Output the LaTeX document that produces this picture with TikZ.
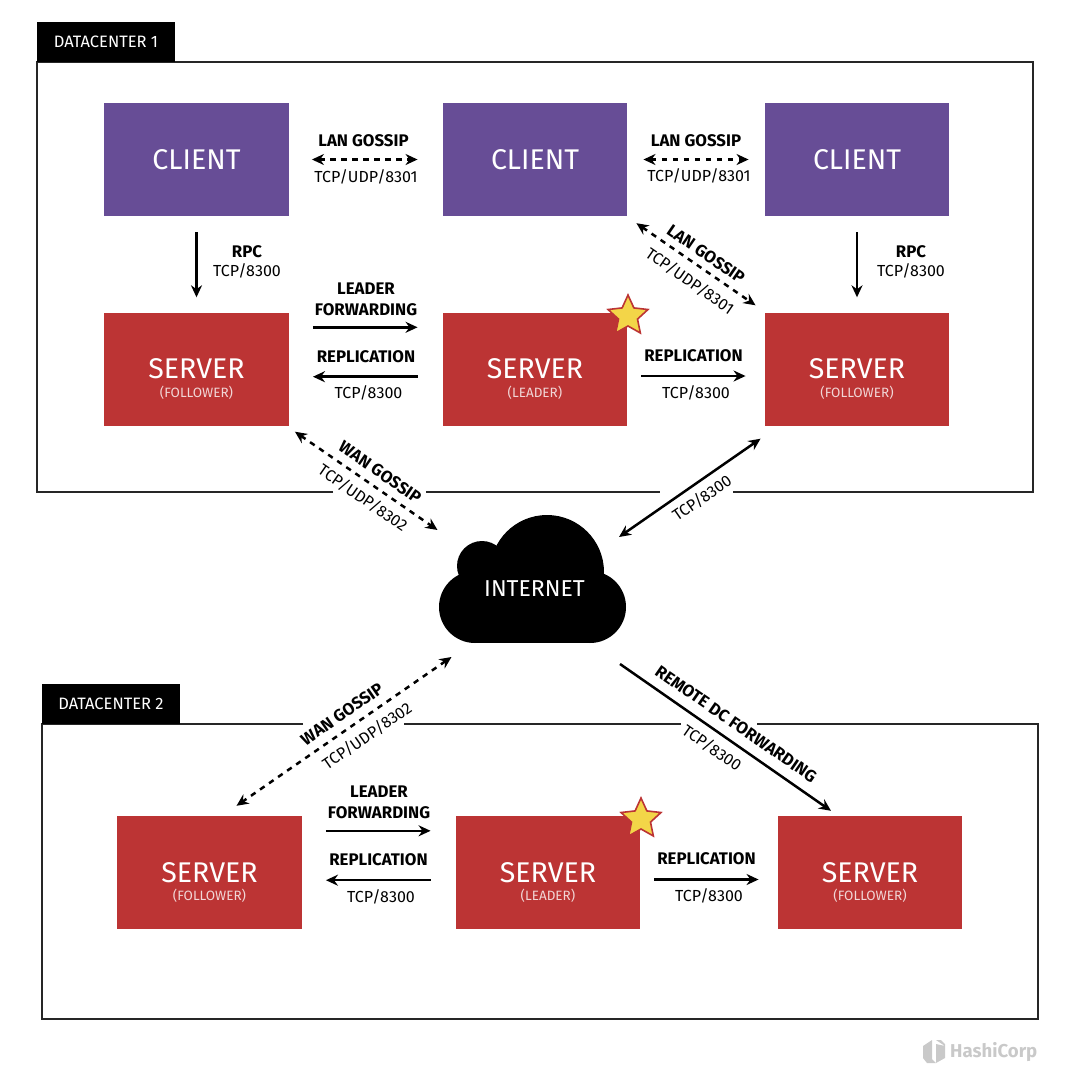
\documentclass[tikz,border=0pt]{standalone}
\usepackage{fontspec}
\setmainfont{Fira Sans}
\usetikzlibrary{shapes.geometric,arrows.meta}
\definecolor{clientpurple}{HTML}{674D96}
\definecolor{serverred}{HTML}{BC3434}
\definecolor{staryellow}{HTML}{F3D548}
\definecolor{logogray}{HTML}{C9C9C9}
\tikzset{
	clientbox/.style={fill=clientpurple,text=white,minimum width=184.5pt,minimum height=113pt,inner sep=0pt,font=\fontsize{28.5}{30}\selectfont},
	serverbox/.style={fill=serverred,text=white,minimum width=184.5pt,minimum height=113pt,inner sep=0pt,font=\fontsize{28.5}{30}\selectfont},
	subtext/.style={text=white!80!serverred,inner sep=0pt,font=\fontsize{13.5}{15}\selectfont},
	tabbox/.style={fill=black,text=white,minimum width=138pt,minimum height=40pt,inner sep=0pt,font=\fontsize{16.5}{18}\selectfont},
	frameline/.style={line width=1.6pt,draw=black!85},
	boldlabel/.style={inner sep=0pt,align=center,font=\bfseries\fontsize{16.8}{21}\selectfont},
	portlabel/.style={inner sep=0pt,font=\fontsize{16}{18}\selectfont},
	solidarrow/.style={line width=2.5pt},
	gossiparrow/.style={line width=2.5pt,dash pattern=on 5.5pt off 5.5pt},
	leaderstar/.style={star,star points=5,star point ratio=2.1,minimum size=42pt,inner sep=0pt,fill=staryellow,draw=serverred,line width=1.6pt},
}
\begin{document}
\begin{tikzpicture}[x=1pt,y=-1pt,line join=miter,>={Stealth[length=12pt,width=11pt]}]
	\useasboundingbox (0,0) rectangle (1080,1088);
	% datacenter 1
	\draw[frameline] (333,492)--(37,492)--(37,62)--(1033,62)--(1033,492)--(733,492);
	\draw[frameline] (426,492)--(660,492);
	\node[tabbox] (tabA) at (106,42) {DATACENTER 1};
	\node[clientbox] (clientA) at (196.5,159.5) {CLIENT};
	\node[clientbox] (clientB) at (535,159.5) {CLIENT};
	\node[clientbox] (clientC) at (857,159.5) {CLIENT};
	\node[serverbox] (serverA) at (196.5,369) {SERVER};
	\node[serverbox] (serverB) at (535,369) {SERVER};
	\node[serverbox] (serverC) at (857,369) {SERVER};
	\node[subtext] (subA) at (196.5,393) {(FOLLOWER)};
	\node[subtext] (subB) at (535,393) {(LEADER)};
	\node[subtext] (subC) at (857,393) {(FOLLOWER)};
	\node[leaderstar] (starA) at (628,316) {};
	% datacenter 2
	\draw[frameline] (303,724)--(42,724)--(42,1019)--(1038,1019)--(1038,724)--(757,724);
	\draw[frameline] (404,724)--(681,724);
	\node[tabbox] (tabB) at (111,704) {DATACENTER 2};
	\node[serverbox] (serverD) at (209.5,872.5) {SERVER};
	\node[serverbox] (serverE) at (548,872.5) {SERVER};
	\node[serverbox] (serverF) at (870,872.5) {SERVER};
	\node[subtext] (subD) at (209.5,896) {(FOLLOWER)};
	\node[subtext] (subE) at (548,896) {(LEADER)};
	\node[subtext] (subF) at (870,896) {(FOLLOWER)};
	\node[leaderstar] (starB) at (641,819) {};
	% cloud
	\fill (475,607) circle(36);
	\fill (590,607) circle(36);
	\fill (547,572) circle(57);
	\fill (482,566) circle(25);
	\fill (475,590) rectangle (590,643);
	\node[text=white,inner sep=0pt,font=\fontsize{23}{25}\selectfont] (internet) at (534.5,589) {INTERNET};
	% connectors of datacenter 1
	\draw[<->,gossiparrow] ([xshift=23pt]clientA.east)--([xshift=-25pt]clientB.west);
	\draw[<->,gossiparrow] ([xshift=16pt]clientB.east)--([xshift=-16pt]clientC.west);
	\draw[<->,gossiparrow] ([shift={(9,7)}]clientB.south east)--([shift={(-9,-7)}]serverC.north west);
	\draw[->,solidarrow] ([yshift=-16pt]clientA.south)--([yshift=15pt]serverA.north);
	\draw[->,solidarrow] ([yshift=-16pt]clientC.south)--([yshift=15pt]serverC.north);
	\draw[->,solidarrow] ([shift={(24,15)}]serverA.north east)--([shift={(-25,15)}]serverB.north west);
	\draw[->,solidarrow] ([shift={(-25,-49)}]serverB.south west)--([shift={(24,-49)}]serverA.south east);
	\draw[->,solidarrow] ([xshift=14pt,yshift=-7pt]serverB.east)--([xshift=-19pt,yshift=-7pt]serverC.west);
	% connectors to the cloud
	\draw[<->,gossiparrow] ([shift={(6,6)}]serverA.south east)--([shift={(-97,-59)}]internet.center);
	\draw[<->,solidarrow] ([shift={(-4,13)}]serverC.south west)--([shift={(84.5,-52)}]internet.center);
	\draw[<->,gossiparrow] ([shift={(-83,68)}]internet.center)--([shift={(27,-10)}]serverD.north);
	\draw[->,solidarrow] ([shift={(85.5,75)}]internet.center)--([shift={(-39,-5)}]serverF.north);
	% connectors of datacenter 2
	\draw[->,solidarrow] ([shift={(24,15)}]serverD.north east)--([shift={(-25,15)}]serverE.north west);
	\draw[->,solidarrow] ([shift={(-25,-49)}]serverE.south west)--([shift={(24,-49)}]serverD.south east);
	\draw[->,solidarrow] ([xshift=14pt,yshift=-7pt]serverE.east)--([xshift=-19pt,yshift=-7pt]serverF.west);
	% labels of datacenter 1
	\node[boldlabel] (lanA) at (363.5,141) {LAN GOSSIP};
	\node[portlabel] (lanportA) at (366,177) {TCP/UDP/8301};
	\node[boldlabel] (lanB) at (696,141) {LAN GOSSIP};
	\node[portlabel] (lanportB) at (699,176) {TCP/UDP/8301};
	\node[boldlabel,rotate=-34.7] (lanC) at (706,254) {LAN GOSSIP};
	\node[portlabel,rotate=-34.7] (lanportC) at (690,281) {TCP/UDP/8301};
	\node[boldlabel] (rpcA) at (247,252) {RPC};
	\node[portlabel] (rpcportA) at (247,271) {TCP/8300};
	\node[boldlabel] (rpcB) at (911,252) {RPC};
	\node[portlabel] (rpcportB) at (911,271) {TCP/8300};
	\node[boldlabel] (leaderA) at (366,299.5) {LEADER\\FORWARDING};
	\node[boldlabel] (replA) at (366,357) {REPLICATION};
	\node[portlabel] (replportA) at (368.5,393) {TCP/8300};
	\node[boldlabel] (replB) at (693.5,356) {REPLICATION};
	\node[portlabel] (replportB) at (696,393) {TCP/8300};
	% labels around the cloud
	\node[boldlabel,rotate=-34.7] (wanA) at (380,472) {WAN GOSSIP};
	\node[portlabel,rotate=-34.7] (wanportA) at (363,498) {TCP/UDP/8302};
	\node[portlabel,rotate=34.7] (inetport) at (702,498) {TCP/8300};
	\node[boldlabel,rotate=34.7] (wanB) at (342,714) {WAN GOSSIP};
	\node[portlabel,rotate=34.7] (wanportB) at (367,736) {TCP/UDP/8302};
	\node[boldlabel,rotate=-34.7] (remote) at (736,724) {REMOTE DC FORWARDING};
	\node[portlabel,rotate=-34.7] (remoteport) at (712,748) {TCP/8300};
	% labels of datacenter 2
	\node[boldlabel] (leaderB) at (379,802.5) {LEADER\\FORWARDING};
	\node[boldlabel] (replC) at (378.5,860) {REPLICATION};
	\node[portlabel] (replportC) at (381,897) {TCP/8300};
	\node[boldlabel] (replD) at (706.5,859) {REPLICATION};
	\node[portlabel] (replportD) at (709,896) {TCP/8300};
	% logo
	\fill[logogray] (923,1046)--(932,1040)--(932,1059)--(936,1063)--(927,1063)--(923,1058)--cycle;
	\fill[logogray] (945,1046)--(936,1040)--(941,1040)--(945,1044)--(945,1058)--(936,1063)--(936,1044)--cycle;
	\node[text=logogray,inner sep=0pt,anchor=west,font=\bfseries\fontsize{18.6}{20}\selectfont] (logo) at (950,1052) {HashiCorp};
\end{tikzpicture}
\end{document}
